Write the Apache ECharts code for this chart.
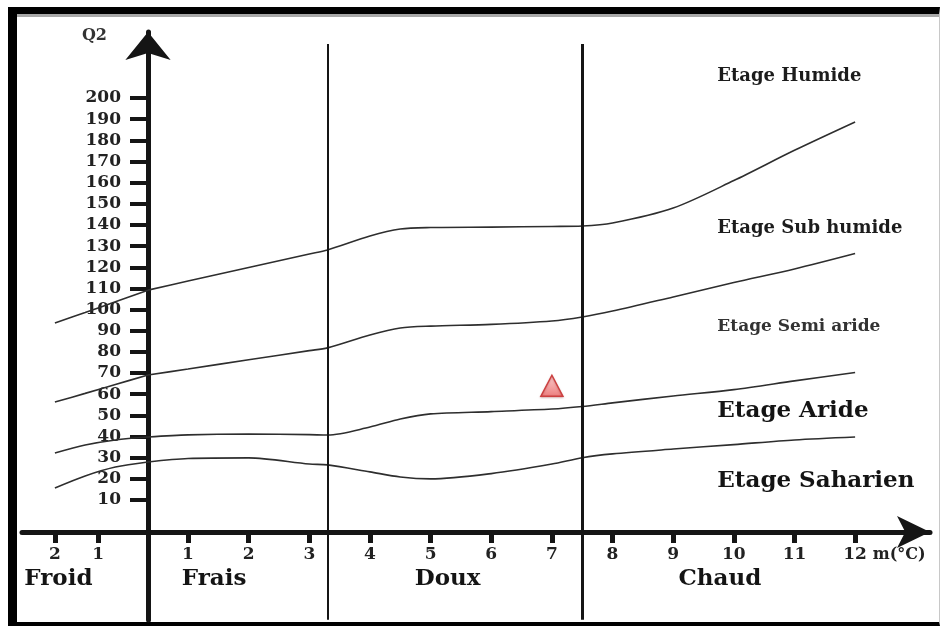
<!DOCTYPE html>
<html>
<head>
<meta charset="utf-8">
<script src="https://cdn.jsdelivr.net/npm/echarts@6/dist/echarts.min.js"></script>
<style>
  html, body { margin: 0; padding: 0; background: #fff; }
  #frame {
    position: absolute; left: 8px; top: 7px; width: 922px; height: 608px;
    border-left: 9px solid #000; border-top: 7px solid #000;
    border-bottom: 4px solid #000; border-right: 1px solid #c8c8c8;
    box-shadow: inset 0 3px 0 #a8a8a8;
  }
  #chart { position: absolute; left: 0; top: 0; width: 940px; height: 626px; }
</style>
</head>
<body>
<div id="frame"></div>
<div id="chart"></div>
<script>
// Climagramme d'Emberger : Q2 en fonction de m (°C)

// graduations
const mTicksFroid = [-2, -1];
const mTicksChaud = [1, 2, 3, 4, 5, 6, 7, 8, 9, 10, 11, 12];
const q2Ticks = [10, 20, 30, 40, 50, 60, 70, 80, 90, 100, 110, 120, 130, 140, 150, 160, 170, 180, 190, 200];

// limites entre étages bioclimatiques, côté m < 0 : [m, Q2]
const limHumideFroid    = [[-2, 93.7], [-1.3, 98.6], [-0.6, 103.7], [0.155, 109.2]];
const limSubHumideFroid = [[-2, 56.3], [-1.3, 60.4], [-0.6, 64.6], [0.155, 69.1]];
const limSemiArideFroid = [[-2, 32.2], [-1.3, 36.0], [-0.6, 38.4], [0.155, 39.8]];
const limArideFroid     = [[-2, 15.7], [-1.3, 21.4], [-0.6, 25.6], [0.155, 28.0]];

// limites entre étages bioclimatiques, côté m > 0 : [m, Q2]
const limHumide = [[0.34, 109.2], [1, 113.5], [2, 119.9], [3, 126.3], [3.3, 128.2], [4, 134.8], [4.5, 138.1],
  [5, 138.8], [6, 139.0], [7, 139.3], [7.5, 139.5], [8, 140.9], [9, 148.0], [10, 161.0], [11, 175.3], [12, 188.7]];
const limSubHumide = [[0.34, 69.1], [1, 71.9], [2, 76.3], [3, 80.6], [3.3, 81.9], [4, 88.0], [4.5, 91.3],
  [5, 92.2], [6, 93.0], [7, 94.6], [7.5, 96.5], [8, 99.3], [9, 106.0], [10, 112.8], [11, 119.2], [12, 126.5]];
const limSemiAride = [[0.34, 39.8], [1, 40.8], [2, 41.2], [3, 40.9], [3.3, 40.7], [4, 44.5], [4.5, 48.3],
  [5, 50.7], [6, 51.8], [7, 53.0], [7.5, 54.2], [8, 55.9], [9, 59.2], [10, 62.2], [11, 66.3], [12, 70.3]];
const limAride = [[0.34, 28.0], [1, 29.6], [2, 29.9], [3, 27.0], [3.3, 26.6], [4, 23.3], [4.5, 20.9],
  [5, 20.0], [6, 22.5], [7, 27.0], [7.5, 30.0], [8, 31.8], [9, 34.1], [10, 36.2], [11, 38.4], [12, 39.8]];

// limites des variantes thermiques (m en °C)
const limitesThermiques = [3.3, 7.5];

// noms des variantes thermiques et leur centre en m
const variantesFroid = ['Froid'];
const variantesFroidM = [-1.92];
const variantes = ['Frais', 'Doux', 'Chaud'];
const variantesM = [1.43, 5.28, 9.77];

// étages bioclimatiques : nom et Q2 de l'étiquette
const etages = ['Etage Humide', 'Etage Sub humide', 'Etage Semi aride', 'Etage Aride', 'Etage Saharien'];
const etagesQ2 = [210.4, 138.6, 91.8, 52.1, 19.0];
const etagesM = 9.72;

// station étudiée [m, Q2]
const station = [[7.0, 64]];

// ---- mise en forme ----
const Y_MIN = -46.7, Y_MAX = 231.2;
const LIGNE_HAUT = 225.5;
const VARIANTE_Q2 = -27.3;
const serif = 'DejaVu Serif';
const ink = '#151515';
const tickFont = { fontFamily: serif, fontWeight: 'bold', fontSize: 17, color: '#222' };
const etageSizes = [18, 18, 17, 23, 23];
const etageColors = ['#1c1c1c', '#1c1c1c', '#333', '#141414', '#141414'];
const curveStyle = { color: '#2e2e2e', width: 1.6 };

function curve(data, idx) {
  return {
    type: 'line', xAxisIndex: idx, yAxisIndex: idx, data: data,
    showSymbol: false, smooth: 0.3, lineStyle: curveStyle, silent: true, z: 3
  };
}

function textSeries(idx, pts, extra) {
  return Object.assign({
    type: 'scatter', xAxisIndex: idx, yAxisIndex: idx, symbolSize: 1,
    itemStyle: { color: 'rgba(0,0,0,0)', opacity: 1 }, silent: true, data: pts
  }, extra);
}

const chart = echarts.init(document.getElementById('chart'), null, { renderer: 'canvas' });

chart.setOption({
  animation: false,
  backgroundColor: 'transparent',
  grid: [
    { left: 22, width: 126, top: 32, bottom: 6 },
    { left: 148, right: 10, top: 32, bottom: 6 }
  ],
  xAxis: [
    {
      gridIndex: 0, type: 'value', min: -2.762, max: 0.155,
      position: 'bottom', offset: -88,
      axisLine: { onZero: false, lineStyle: { color: ink, width: 5 } },
      axisTick: { customValues: mTicksFroid, length: 11, lineStyle: { color: ink, width: 5 } },
      axisLabel: { customValues: mTicksFroid, margin: 14, formatter: v => String(Math.abs(v)), ...tickFont },
      splitLine: { show: false }
    },
    {
      gridIndex: 1, type: 'value', min: 0.34, max: 13.235,
      position: 'bottom', offset: -88,
      axisLine: { onZero: false, symbol: ['none', 'arrow'], symbolSize: [24, 33], lineStyle: { color: ink, width: 5 } },
      axisTick: { customValues: mTicksChaud, length: 11, lineStyle: { color: ink, width: 5 } },
      axisLabel: { customValues: mTicksChaud, margin: 14, ...tickFont },
      splitLine: { show: false },
      name: 'm(°C)', nameLocation: 'end', nameGap: -60,
      nameTextStyle: { fontFamily: serif, fontWeight: 'bold', fontSize: 16, color: '#222', align: 'left', verticalAlign: 'top', padding: [15, 0, 0, 0] }
    }
  ],
  yAxis: [
    { gridIndex: 0, type: 'value', min: Y_MIN, max: Y_MAX, show: false },
    {
      gridIndex: 1, type: 'value', min: Y_MIN, max: Y_MAX, position: 'left',
      axisLine: { onZero: false, symbol: ['none', 'arrow'], symbolSize: [34, 28], lineStyle: { color: ink, width: 5 } },
      axisTick: { customValues: q2Ticks, length: 18, lineStyle: { color: ink, width: 4 } },
      axisLabel: { customValues: q2Ticks, margin: 27, ...tickFont },
      splitLine: { show: false },
      name: 'Q2', nameLocation: 'end', nameGap: -4,
      nameTextStyle: { fontFamily: serif, fontWeight: 'bold', fontSize: 16, color: '#333', align: 'right', verticalAlign: 'middle', padding: [0, 41, 0, 0] }
    }
  ],
  series: [
    curve(limHumideFroid, 0), curve(limSubHumideFroid, 0), curve(limSemiArideFroid, 0), curve(limArideFroid, 0),
    Object.assign(curve(limHumide, 1), {
      markLine: {
        silent: true, symbol: 'none', label: { show: false },
        data: limitesThermiques.map((m, i) => [
          { coord: [m, LIGNE_HAUT], lineStyle: { color: ink, width: i === 0 ? 2 : 3, type: 'solid' } },
          { coord: [m, Y_MIN + 0.1] }
        ])
      }
    }),
    curve(limSubHumide, 1), curve(limSemiAride, 1), curve(limAride, 1),
    textSeries(0, variantesFroid.map((n, i) => ({ name: n, value: [variantesFroidM[i], VARIANTE_Q2] })), {
      label: { show: true, position: 'inside', formatter: p => p.name, fontFamily: serif, fontWeight: 'bold', fontSize: 23, color: '#141414', opacity: 1 }
    }),
    textSeries(1, variantes.map((n, i) => ({ name: n, value: [variantesM[i], VARIANTE_Q2] })), {
      label: { show: true, position: 'inside', formatter: p => p.name, fontFamily: serif, fontWeight: 'bold', fontSize: 23, color: '#141414', opacity: 1 }
    }),
    textSeries(1, etages.map((n, i) => ({
      name: n, value: [etagesM, etagesQ2[i]],
      label: { fontSize: etageSizes[i], color: etageColors[i] }
    })), {
      label: { show: true, position: 'right', distance: 0, formatter: p => p.name, fontFamily: serif, fontWeight: 'bold', opacity: 1 }
    }),
    {
      type: 'scatter', xAxisIndex: 1, yAxisIndex: 1, data: station, silent: true, z: 5,
      symbol: 'triangle', symbolSize: [22, 21],
      itemStyle: {
        opacity: 1,
        color: new echarts.graphic.LinearGradient(0, 0, 0, 1, [
          { offset: 0, color: '#fcd0d0' }, { offset: 1, color: '#ec7c7c' }
        ]),
        borderColor: '#cc4040', borderWidth: 1.5,
        shadowColor: 'rgba(120,0,0,0.25)', shadowBlur: 2, shadowOffsetY: 1
      }
    }
  ]
});
</script>
</body>
</html>
